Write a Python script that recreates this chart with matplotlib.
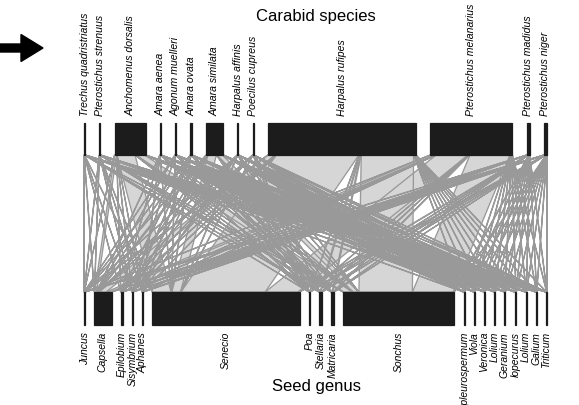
import numpy as np
import matplotlib.pyplot as plt
from matplotlib.patches import Polygon, Rectangle

plt.rcParams['font.family'] = ['Liberation Sans', 'DejaVu Sans']

# carabid species (upper level)
species = ['Trechus quadristriatus', 'Pterostichus strenuus', 'Anchomenus dorsalis',
           'Amara aenea', 'Agonum muelleri', 'Amara ovata', 'Amara similata',
           'Harpalus affinis', 'Poecilus cupreus', 'Harpalus rufipes',
           'Pterostichus melanarius', 'Pterostichus madidus', 'Pterostichus niger']

# seed genera (lower level)
genera = ['Juncus', 'Capsella', 'Epilobium', 'Sisymbrium', 'Aphanes', 'Senecio',
          'Poa', 'Stellaria', 'Matricaria', 'Sonchus', 'Tripleurospermum', 'Viola',
          'Veronica', 'Lolium', 'Geranium', 'lopecurus', 'Lolium', 'Galium', 'Triticum']

# interaction counts, rows = species, columns = genera (estimated from link widths)
trechus    = [1, 3, 1, 1, 0, 4, 1, 1, 0, 3, 1, 0, 1, 0, 1, 0, 1, 0, 1]
strenuus   = [1, 3, 0, 1, 1, 4, 0, 1, 1, 3, 0, 1, 0, 1, 0, 1, 0, 1, 1]
anchomenus = [2, 40, 4, 2, 2, 360, 2, 6, 6, 176, 2, 2, 2, 2, 2, 4, 2, 2, 2]
aenea      = [0, 3, 1, 0, 1, 4, 1, 0, 1, 3, 1, 1, 0, 1, 0, 1, 0, 1, 1]
agonum     = [1, 3, 0, 1, 0, 4, 0, 1, 1, 3, 1, 0, 1, 1, 1, 0, 1, 0, 1]
ovata      = [1, 4, 1, 1, 1, 7, 1, 1, 1, 5, 1, 1, 1, 0, 1, 1, 1, 1, 0]
similata   = [2, 30, 3, 1, 1, 170, 1, 4, 4, 110, 1, 2, 1, 2, 1, 3, 1, 2, 1]
affinis    = [1, 3, 1, 0, 1, 4, 1, 0, 1, 3, 0, 1, 1, 0, 1, 0, 1, 0, 1]
poecilus   = [0, 3, 1, 1, 0, 4, 1, 1, 0, 3, 1, 0, 1, 1, 0, 1, 0, 1, 1]
rufipes    = [4, 140, 12, 6, 6, 1650, 6, 20, 20, 1046, 5, 5, 5, 5, 5, 10, 5, 5, 5]
melanarius = [4, 90, 10, 5, 5, 640, 5, 16, 16, 799, 5, 5, 5, 5, 5, 10, 5, 5, 5]
madidus    = [2, 8, 2, 1, 1, 18, 1, 2, 2, 12, 1, 1, 1, 1, 1, 2, 1, 1, 2]
niger      = [2, 8, 2, 1, 1, 18, 1, 2, 2, 12, 1, 1, 2, 1, 1, 2, 1, 1, 1]

web = np.array([trechus, strenuus, anchomenus, aenea, agonum, ovata, similata,
                affinis, poecilus, rufipes, melanarius, madidus, niger], dtype=float)


def layout(totals, x0, x1, gap):
    scale = (x1 - x0 - gap * (len(totals) - 1)) / totals.sum()
    widths = totals * scale
    starts = x0 + np.concatenate([[0], np.cumsum(widths[:-1] + gap)])
    return starts, widths, scale


left, right = 84, 547
up_top, up_bot = 123, 155
lo_top, lo_bot = 292, 325

u_start, u_w, u_scale = layout(web.sum(axis=1), left, right, 14.25)
l_start, l_w, l_scale = layout(web.sum(axis=0), left, right, 9.17)

fig = plt.figure(figsize=(5.79, 4.05), dpi=100)
ax = fig.add_axes([0, 0, 1, 1])
ax.set_xlim(0, 579)
ax.set_ylim(405, 0)
ax.axis('off')

# link polygons: upper boxes stacked by genus, lower boxes stacked by species
polys = []
for i in range(web.shape[0]):
    for j in range(web.shape[1]):
        v = web[i, j]
        if v == 0:
            continue
        ua = u_start[i] + web[i, :j].sum() * u_scale
        ub = ua + v * u_scale
        la = l_start[j] + web[:i, j].sum() * l_scale
        lb = la + v * l_scale
        polys.append([(ua, up_bot), (ub, up_bot), (lb, lo_top), (la, lo_top)])

for p in polys:
    ax.add_patch(Polygon(p, closed=True, facecolor='#d6d6d6', edgecolor='none', zorder=1))
for p in polys:
    ax.add_patch(Polygon(p, closed=True, facecolor='none', edgecolor='#999999',
                         linewidth=0.95, zorder=2))

# boxes
for s, w in zip(u_start, u_w):
    ax.add_patch(Rectangle((s, up_top), w, up_bot - up_top, facecolor='#1c1c1c',
                           edgecolor='#1c1c1c', linewidth=0.9, zorder=3))
for s, w in zip(l_start, l_w):
    ax.add_patch(Rectangle((s, lo_top), w, lo_bot - lo_top, facecolor='#1c1c1c',
                           edgecolor='#1c1c1c', linewidth=0.9, zorder=3))

# labels
for s, w, name in zip(u_start, u_w, species):
    ax.text(s + w / 2, 116, name, rotation=90, ha='center', va='bottom',
            fontsize=7.6, style='italic')
for s, w, name in zip(l_start, l_w, genera):
    ax.text(s + w / 2, 332, name, rotation=90, ha='center', va='top',
            fontsize=7.5, style='italic')

ax.text(316, 17, 'Carabid species', ha='center', va='center', fontsize=12)
ax.text(316, 386, 'Seed genus', ha='center', va='center', fontsize=12)

ax.arrow(0, 48, 43, 0, width=8, head_width=27, head_length=22,
         length_includes_head=True, color='black')

fig.savefig('out.png', dpi=100)
